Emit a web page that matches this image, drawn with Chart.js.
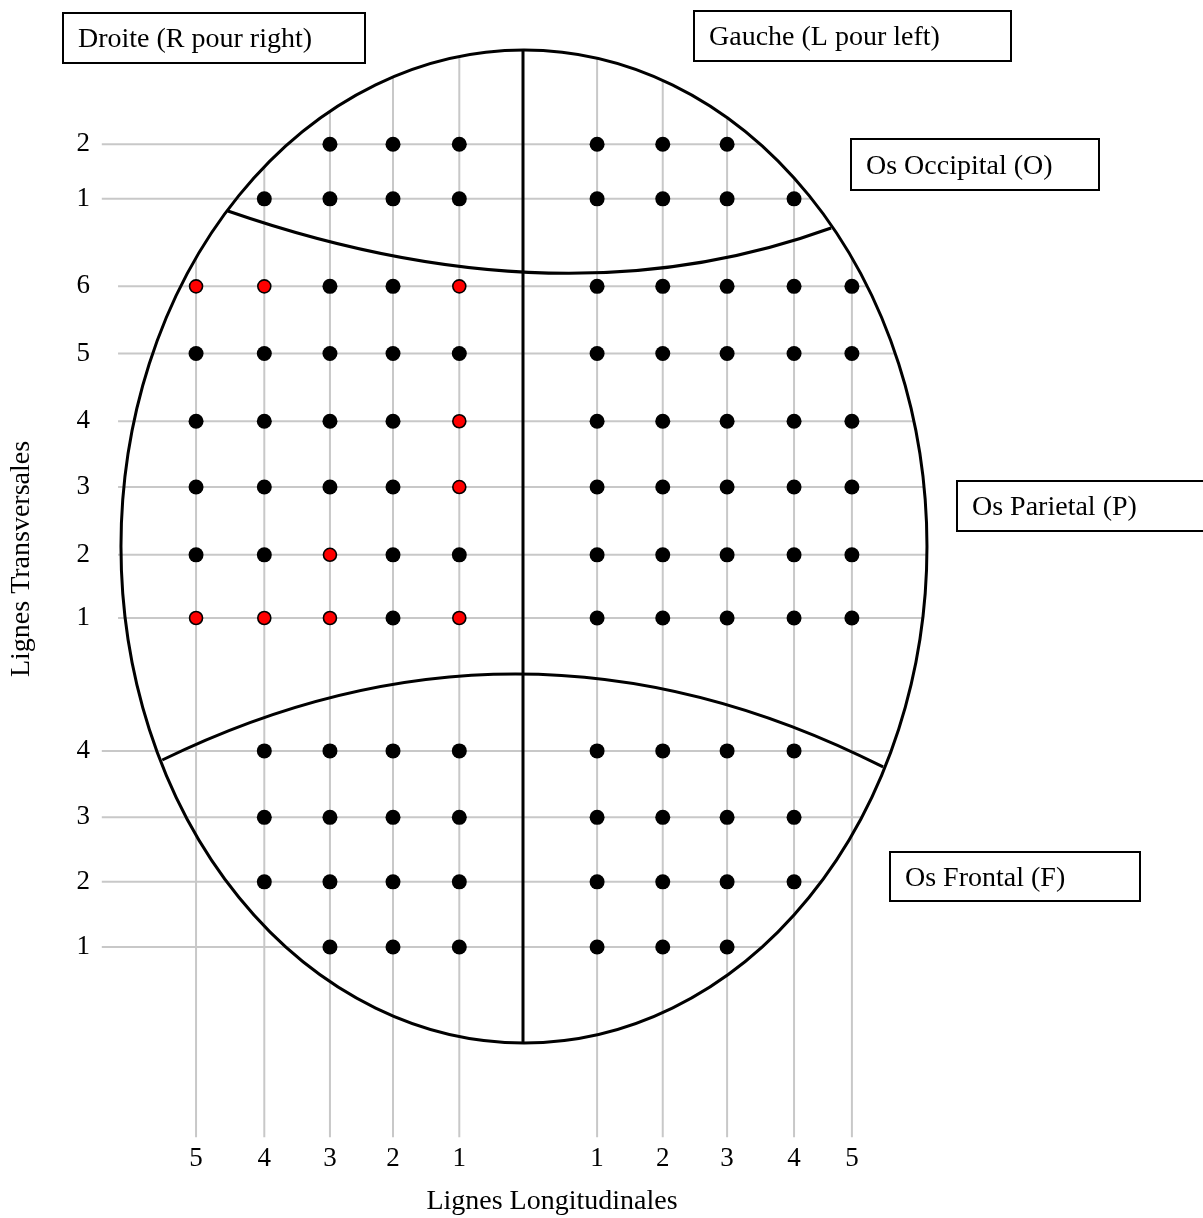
<!DOCTYPE html>
<html>
<head>
<meta charset="utf-8">
<script src="https://cdn.jsdelivr.net/npm/chart.js@4.4.1/dist/chart.umd.min.js"></script>
<style>
  html, body { margin: 0; padding: 0; background: #fff; }
  canvas { display: block; }
</style>
</head>
<body>
<canvas id="c" width="1203" height="1218"></canvas>
<script>
// ---------- DATA ----------
// Longitudinal lines (x axis), from right hemisphere (R5..R1) to left hemisphere (L1..L5)
const lonIds    = ['R5','R4','R3','R2','R1','L1','L2','L3','L4','L5'];
const lonLabels = ['5','4','3','2','1','1','2','3','4','5'];
// Transverse lines (y axis): occipital (O2,O1), parietal (P6..P1), frontal (F4..F1)
const rowIds    = ['O2','O1','P6','P5','P4','P3','P2','P1','F4','F3','F2','F1'];
const rowLabels = ['2','1','6','5','4','3','2','1','4','3','2','1'];

// Electrode points present on each transverse line
const occipitalRows = {
  O2: ['R3','R2','R1','L1','L2','L3'],
  O1: ['R4','R3','R2','R1','L1','L2','L3','L4']
};
const parietalRows = {
  P6: ['R5','R4','R3','R2','R1','L1','L2','L3','L4','L5'],
  P5: ['R5','R4','R3','R2','R1','L1','L2','L3','L4','L5'],
  P4: ['R5','R4','R3','R2','R1','L1','L2','L3','L4','L5'],
  P3: ['R5','R4','R3','R2','R1','L1','L2','L3','L4','L5'],
  P2: ['R5','R4','R3','R2','R1','L1','L2','L3','L4','L5'],
  P1: ['R5','R4','R3','R2','R1','L1','L2','L3','L4','L5']
};
const frontalRows = {
  F4: ['R4','R3','R2','R1','L1','L2','L3','L4'],
  F3: ['R4','R3','R2','R1','L1','L2','L3','L4'],
  F2: ['R4','R3','R2','R1','L1','L2','L3','L4'],
  F1: ['R3','R2','R1','L1','L2','L3']
};
// Highlighted (red) points: row-line
const redPoints = ['P6-R5','P6-R4','P6-R1','P4-R1','P3-R1','P2-R3','P1-R5','P1-R4','P1-R3','P1-R1'];

// Region labels
const boxTexts = ['Droite (R pour right)','Gauche (L pour left)','Os Occipital (O)','Os Parietal (P)','Os Frontal (F)'];
const xTitle = 'Lignes Longitudinales';
const yTitle = 'Lignes Transversales';

// ---------- AXIS LAYOUT (scale units) ----------
const lonPos = [-5.03,-3.98,-2.97,-2.0,-0.98, 1.14, 2.15, 3.14, 4.17, 5.06];
const rowPos = [13.2, 12.37, 11.04, 10.02, 8.99, 7.99, 6.96, 6.0, 3.98, 2.97, 1.99, 1.0];
const skull = { cx: 0.015, cy: 7.087, rx: 6.2, ry: 7.546 };
const occCurve = { p0: [-4.54, 12.185], c: [0.58, 10.43], p2: [4.74, 11.927] };
const froCurve = { p0: [-5.55, 3.842], c: [-0.01, 6.51], p2: [5.54, 3.736] };
const gridStart = { O: -6.48, P: -6.23, F: -6.48 };
const gridBottom = -1.89;

// ---------- BUILD POINTS ----------
const lonIndex = Object.fromEntries(lonIds.map((id, i) => [id, i]));
const rowIndex = Object.fromEntries(rowIds.map((id, i) => [id, i]));
const blackPts = [], redPts = [];
[occipitalRows, parietalRows, frontalRows].forEach(group => {
  Object.entries(group).forEach(([row, lons]) => {
    lons.forEach(lon => {
      const p = { x: lonPos[lonIndex[lon]], y: rowPos[rowIndex[row]] };
      (redPoints.includes(row + '-' + lon) ? redPts : blackPts).push(p);
    });
  });
});

const FONT = '"Liberation Serif", "Times New Roman", serif';
Chart.defaults.font.family = FONT;
Chart.defaults.color = '#000';

const GRID = '#c8c8c8';

const headPlugin = {
  id: 'head',
  beforeDatasetsDraw(chart) {
    const ctx = chart.ctx, X = chart.scales.x, Y = chart.scales.y;
    const px = v => X.getPixelForValue(v), py = v => Y.getPixelForValue(v);
    const s = skull;
    ctx.save();
    // grid lines (ending at the skull outline on one side)
    ctx.strokeStyle = GRID; ctx.lineWidth = 2;
    rowIds.forEach((id, i) => {
      const y = rowPos[i];
      const t = (y - s.cy) / s.ry;
      const xr = s.cx + s.rx * Math.sqrt(Math.max(0, 1 - t * t));
      ctx.beginPath();
      ctx.moveTo(px(gridStart[id[0]]), py(y));
      ctx.lineTo(px(xr), py(y));
      ctx.stroke();
    });
    lonPos.forEach(x => {
      const t = (x - s.cx) / s.rx;
      const yt = s.cy + s.ry * Math.sqrt(Math.max(0, 1 - t * t));
      ctx.beginPath();
      ctx.moveTo(px(x), py(yt));
      ctx.lineTo(px(x), py(gridBottom));
      ctx.stroke();
    });
    // skull outline
    ctx.strokeStyle = '#000'; ctx.lineWidth = 3;
    const cxp = px(s.cx), cyp = py(s.cy);
    const rxp = Math.abs(px(s.cx + s.rx) - cxp), ryp = Math.abs(py(s.cy + s.ry) - cyp);
    ctx.beginPath();
    ctx.ellipse(cxp, cyp, rxp, ryp, 0, 0, Math.PI * 2);
    ctx.stroke();
    // midline
    ctx.beginPath();
    ctx.moveTo(px(0), py(s.cy + s.ry));
    ctx.lineTo(px(0), py(s.cy - s.ry));
    ctx.stroke();
    // bone boundaries
    [occCurve, froCurve].forEach(cv => {
      ctx.beginPath();
      ctx.moveTo(px(cv.p0[0]), py(cv.p0[1]));
      ctx.quadraticCurveTo(px(cv.c[0]), py(cv.c[1]), px(cv.p2[0]), py(cv.p2[1]));
      ctx.stroke();
    });
    ctx.restore();
  },
  afterDraw(chart) {
    const ctx = chart.ctx;
    // annotation boxes (page layout, pixels)
    const boxes = [
      { x: 63,  y: 13,  w: 302, h: 50 },
      { x: 694, y: 11,  w: 317, h: 50 },
      { x: 851, y: 139, w: 248, h: 51 },
      { x: 957, y: 481, w: 260, h: 50 },
      { x: 890, y: 852, w: 250, h: 49 }
    ];
    ctx.save();
    ctx.strokeStyle = '#000'; ctx.lineWidth = 2;
    ctx.fillStyle = '#000';
    ctx.font = '28px ' + FONT;
    ctx.textBaseline = 'middle';
    boxes.forEach((b, i) => {
      ctx.strokeRect(b.x, b.y, b.w, b.h);
      ctx.fillText(boxTexts[i], b.x + 15, b.y + b.h / 2 + 2);
    });
    ctx.restore();
  }
};

new Chart(document.getElementById('c'), {
  type: 'scatter',
  data: {
    datasets: [
      { data: blackPts, pointRadius: 7.5, pointHoverRadius: 7.5, backgroundColor: '#000', borderWidth: 0 },
      { data: redPts, pointRadius: 6.5, pointHoverRadius: 6.5, backgroundColor: '#ff0000', borderColor: '#000', borderWidth: 1.6 }
    ]
  },
  options: {
    responsive: false,
    devicePixelRatio: 1,
    animation: false,
    layout: { autoPadding: false, padding: { left: 0, top: 0, right: 199, bottom: 0 } },
    plugins: { legend: { display: false }, tooltip: { enabled: false } },
    scales: {
      x: {
        type: 'linear', position: 'bottom', bounds: 'data',
        min: -6.5077, max: 7.4,
        grid: { display: false, drawTicks: false },
        border: { display: false },
        ticks: {
          autoSkip: false, maxRotation: 0, minRotation: 0, padding: 25,
          font: { size: 27 }, color: '#000',
          callback: (v, i) => lonLabels[i]
        },
        title: { display: true, text: xTitle, font: { size: 28 }, color: '#000', padding: { top: 0, bottom: 0 } },
        afterBuildTicks: s => { s.ticks = lonPos.map(v => ({ value: v })); },
        afterFit: s => { s.height = 100; s.paddingLeft = 0; s.paddingRight = 0; }
      },
      y: {
        type: 'linear', position: 'left', bounds: 'data',
        min: -1.599, max: 15.392,
        grid: { display: false, drawTicks: false },
        border: { display: false },
        ticks: {
          autoSkip: false, padding: 10,
          font: { size: 27 }, color: '#000',
          callback: (v, i) => rowLabels[i]
        },
        title: { display: true, text: yTitle, font: { size: 28 }, color: '#000', padding: { top: 5, bottom: 0 } },
        afterBuildTicks: s => { s.ticks = rowPos.map(v => ({ value: v })); },
        afterFit: s => { s.width = 100; s.paddingTop = 0; s.paddingBottom = 0; }
      }
    }
  },
  plugins: [headPlugin]
});
</script>
</body>
</html>
